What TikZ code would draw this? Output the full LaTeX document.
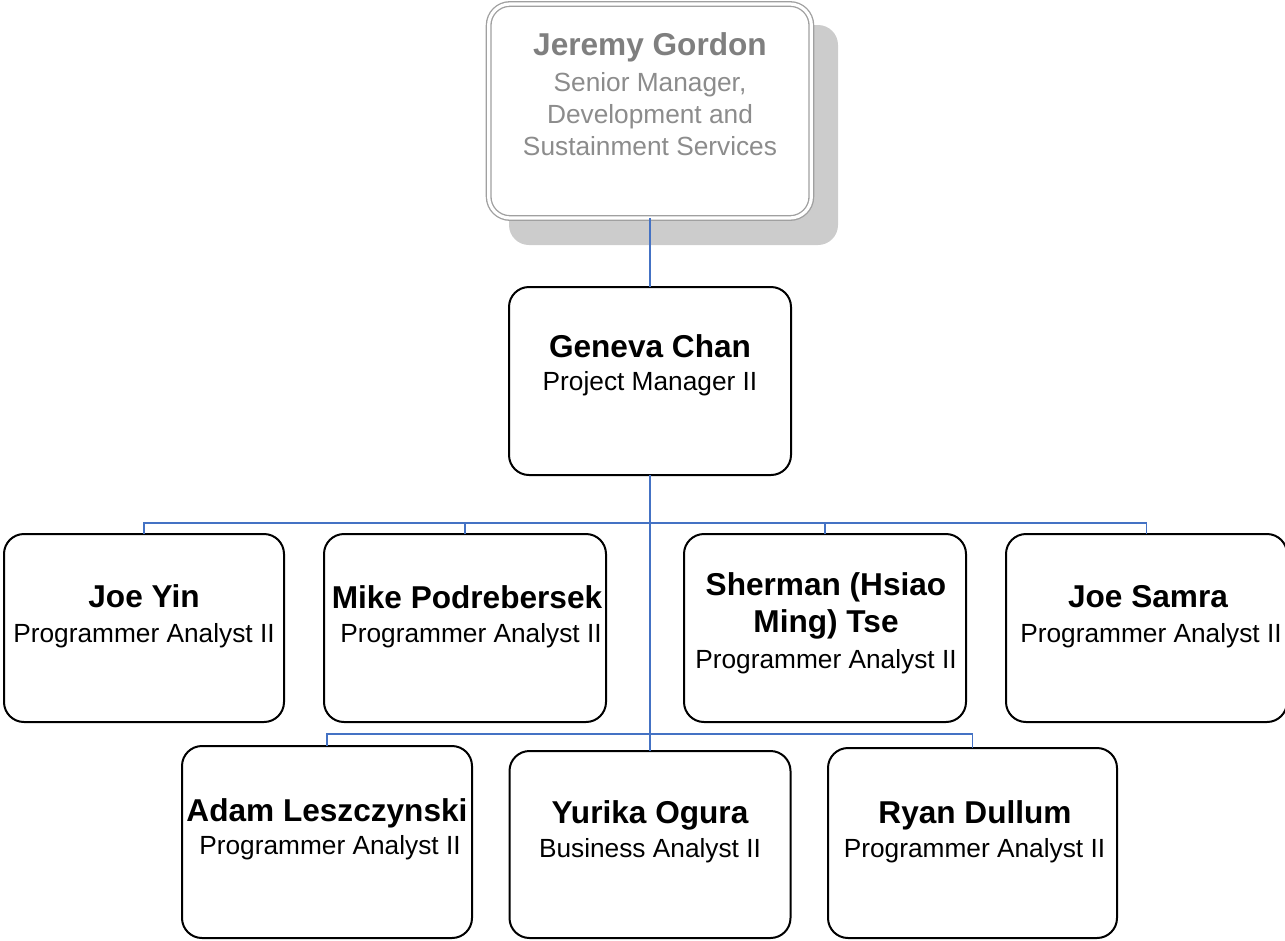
\documentclass[tikz,border=0pt]{standalone}
\usepackage{fontspec}
\setmainfont{Liberation Sans}
\definecolor{connblue}{RGB}{68,114,196}
\definecolor{shadowgray}{RGB}{204,204,204}
\definecolor{topborder}{RGB}{160,160,160}
\definecolor{topname}{RGB}{127,127,127}
\definecolor{topsub}{RGB}{140,140,140}
\begin{document}
\begin{tikzpicture}[x=0.75pt,y=-0.75pt,
  box/.style={rectangle, draw=black, line width=1.5pt, rounded corners=15pt, fill=white, inner sep=0pt, outer sep=0pt},
  topbox/.style={rectangle, draw=topborder, line width=1pt, double=white, double distance=2.4pt, rounded corners=16pt, fill=white, inner sep=0pt, outer sep=0pt},
  link/.style={draw=connblue, line width=1.2pt},
  nm/.style={anchor=base, inner sep=0pt, font=\fontsize{23.7pt}{28pt}\selectfont\bfseries},
  sub/.style={anchor=base, inner sep=0pt, font=\fontsize{19.7pt}{24pt}\selectfont},
]
\useasboundingbox (0,0) rectangle (1285,940);

% shadow and top box
\fill[shadowgray, rounded corners=15pt] (509,25) rectangle (838,245);
\node[topbox, minimum width=242pt, minimum height=160.5pt] (jeremy) at (650,111) {};
\node[nm, text=topname] (jeremy-n) at (650,55) {Jeremy Gordon};
\node[sub, text=topsub] (jeremy-t1) at (650,91) {Senior Manager,};
\node[sub, text=topsub] (jeremy-t2) at (650,123) {Development and};
\node[sub, text=topsub] (jeremy-t3) at (650,155) {Sustainment Services};

% boxes
\node[box, minimum width=211.5pt, minimum height=141pt] (geneva) at (650,381) {};
\node[box, minimum width=210pt, minimum height=141pt] (joeyin) at (144,628) {};
\node[box, minimum width=211.5pt, minimum height=141pt] (mike) at (465,628) {};
\node[box, minimum width=211.5pt, minimum height=141pt] (sherman) at (825,628) {};
\node[box, minimum width=210.75pt, minimum height=141pt] (samra) at (1146.5,628) {};
\node[box, minimum width=217.5pt, minimum height=144pt] (adam) at (327,842) {};
\node[box, minimum width=210.75pt, minimum height=140.25pt] (yurika) at (650,844.5) {};
\node[box, minimum width=216.75pt, minimum height=142.5pt] (ryan) at (972.5,843) {};

% connectors
\coordinate (bus1) at (650,523);
\coordinate (bus2) at (650,734);
\draw[link] (jeremy.south) -- (geneva.north);
\draw[link] (geneva.south) -- (yurika.north);
\draw[link] (joeyin.north) |- (bus1);
\draw[link] (mike.north) |- (bus1);
\draw[link] (sherman.north) |- (bus1);
\draw[link] (samra.north) |- (bus1);
\draw[link] (adam.north) |- (bus2);
\draw[link] (ryan.north) |- (bus2);

% texts
\node[nm] (geneva-n) at (650,357) {Geneva Chan};
\node[sub] (geneva-t) at (650,390) {Project Manager II};
\node[nm] (joeyin-n) at (144,607) {Joe Yin};
\node[sub] (joeyin-t) at (144,642) {Programmer Analyst II};
\node[nm] (mike-n) at (467,608) {Mike Podrebersek};
\node[sub] (mike-t) at (471,642) {Programmer Analyst II};
\node[nm] (sherman-n1) at (826,595) {Sherman (Hsiao};
\node[nm] (sherman-n2) at (826,632) {Ming) Tse};
\node[sub] (sherman-t) at (826,668) {Programmer Analyst II};
\node[nm] (samra-n) at (1148,607) {Joe Samra};
\node[sub] (samra-t) at (1151,642) {Programmer Analyst II};
\node[nm] (adam-n) at (327,821) {Adam Leszczynski};
\node[sub] (adam-t) at (330,854) {Programmer Analyst II};
\node[nm] (yurika-n) at (650,823) {Yurika Ogura};
\node[sub] (yurika-t) at (650,857) {Business Analyst II};
\node[nm] (ryan-n) at (975,823) {Ryan Dullum};
\node[sub] (ryan-t) at (974.5,857) {Programmer Analyst II};
\end{tikzpicture}
\end{document}
